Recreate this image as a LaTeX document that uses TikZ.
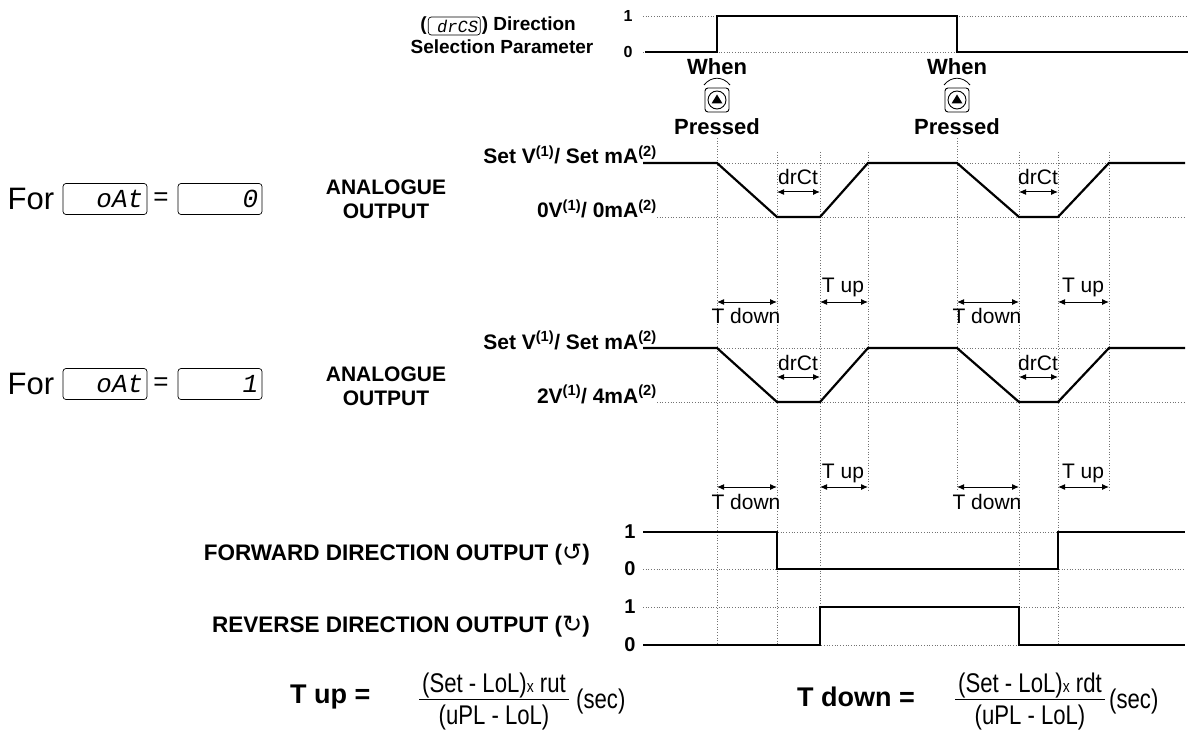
\documentclass[tikz,border=0pt]{standalone}
\usepackage{fontspec}
\setmainfont{Liberation Sans}
\newfontfamily\segfont[FakeSlant=0.18]{Liberation Mono}
\newfontfamily\narrowfont[FakeStretch=0.82]{Liberation Sans}
\newfontfamily\symfont{DejaVu Sans}
\usetikzlibrary{arrows.meta,positioning}

\tikzset{
  lab/.style={font=\fontsize{21}{24}\selectfont\bfseries, inner sep=0pt},
  note/.style={font=\fontsize{21}{24}\selectfont, inner sep=0pt},
  lvl/.style={font=\fontsize{16}{18}\selectfont\bfseries, inner sep=0pt},
  biglvl/.style={font=\fontsize{20}{22}\selectfont\bfseries, inner sep=0pt},
  eqn/.style={font=\fontsize{27}{30}\selectfont\bfseries, inner sep=0pt},
  fracpart/.style={font=\fontsize{27}{30}\selectfont\narrowfont, inner sep=1pt},
  sig/.style={line width=2.2pt, line join=miter},
  guide/.style={black!55, dotted, line width=0.7pt},
  span/.style={{Latex[length=7pt,width=6pt]}-{Latex[length=7pt,width=6pt]}, line width=1pt},
  segbox/.style={draw, rounded corners=3pt, line width=0.7pt, minimum width=84pt,
    minimum height=31pt, text width=74pt, align=right, inner sep=4pt,
    font=\fontsize{26}{26}\segfont},
  upkey/.pic={
    \draw[rounded corners=3pt, line width=0.9pt] (-12,-12) rectangle (12,12);
    \draw[line width=0.9pt] (0,0) circle (9pt);
    \fill (-5.5,3.5) -- (5.5,3.5) -- (0,-5.5) -- cycle;
    \draw[line width=0.8pt] (-13,-15) .. controls (-6,-24) and (6,-24) .. (13,-15);
  }
}

\begin{document}
\begin{tikzpicture}[x=1pt, y=-1pt]
  \useasboundingbox (0,0) rectangle (1200,733);

  % Title of the direction parameter
  \node[lab, font=\fontsize{19}{22}\selectfont\bfseries, anchor=east] (dirtxt) at (576,26) {) Direction};
  \node[segbox, minimum width=52pt, minimum height=18pt, text width=46pt, inner sep=1pt,
    font=\fontsize{17}{17}\segfont, left=1pt of dirtxt] (drcs) {drCS};
  \node[lab, font=\fontsize{19}{22}\selectfont\bfseries, left=1pt of drcs] (paren) {(};
  \node[lab, font=\fontsize{19}{22}\selectfont\bfseries] (selpar) at (502,47) {Selection Parameter};

  % Direction parameter signal
  \node[lvl] (top1) at (628,16) {1};
  \node[lvl] (top0) at (628,52) {0};
  \draw[guide] (643,16) -- (1188,16);
  \draw[guide] (643,52) -- (1188,52);
  \draw[sig] (645,52) -- (717,52) -- (717,16) -- (957,16) -- (957,52) -- (1188,52);

  % Key presses
  \node[lab, font=\fontsize{22}{24}\selectfont\bfseries] (when1) at (717,67) {When};
  \pic at (717,100) {upkey};
  \node[lab, font=\fontsize{22}{24}\selectfont\bfseries] (press1) at (717,127) {Pressed};
  \node[lab, font=\fontsize{22}{24}\selectfont\bfseries] (when2) at (957,67) {When};
  \pic at (957,100) {upkey};
  \node[lab, font=\fontsize{22}{24}\selectfont\bfseries] (press2) at (957,127) {Pressed};

  % Time guides
  \draw[guide] (717,138) -- (717,645);
  \draw[guide] (957,138) -- (957,490);
  \draw[guide] (777,152) -- (777,645);
  \draw[guide] (820,152) -- (820,645);
  \draw[guide] (868,152) -- (868,490);
  \draw[guide] (1019,152) -- (1019,645);
  \draw[guide] (1058,152) -- (1058,645);
  \draw[guide] (1109,152) -- (1109,490);

  % First analogue output (oAt = 0)
  \node[font=\fontsize{31}{34}\selectfont, inner sep=0pt] (for1) at (31,199) {For};
  \node[segbox] (oat1) at (105,199) {oAt};
  \node[font=\fontsize{26}{28}\selectfont, inner sep=0pt] (eq1) at (161,199) {=};
  \node[segbox] (val1) at (220,199) {0};
  \node[lab, align=center] (ana1) at (386,199) {ANALOGUE\\OUTPUT};
  \node[lab, anchor=base east] (set1) at (657,164) {Set V\textsuperscript{(1)}/ Set mA\textsuperscript{(2)}};
  \node[lab, anchor=base east] (low1) at (657,218) {0V\textsuperscript{(1)}/ 0mA\textsuperscript{(2)}};
  \draw[guide] (643,163) -- (1185,163);
  \draw[guide] (657,217) -- (1185,217);
  \draw[sig] (643,163) -- (717,163) -- (777,217) -- (820,217) -- (868,163) -- (957,163)
    -- (1019,217) -- (1058,217) -- (1109,163) -- (1185,163);
  \node[note] (dct1) at (798,177) {drCt};
  \draw[span] (777,192) -- (820,192);
  \node[note] (dct2) at (1038,177) {drCt};
  \draw[span] (1019,192) -- (1058,192);
  \draw[span] (717,302) -- (777,302);
  \node[note] (tdn1) at (746,316) {T down};
  \draw[span] (820,302) -- (868,302);
  \node[note] (tup1) at (843,287) {T up};
  \draw[span] (957,302) -- (1019,302);
  \node[note] (tdn2) at (987,316) {T down};
  \draw[span] (1058,302) -- (1109,302);
  \node[note] (tup2) at (1083,287) {T up};

  % Second analogue output (oAt = 1)
  \node[font=\fontsize{31}{34}\selectfont, inner sep=0pt] (for2) at (31,384) {For};
  \node[segbox] (oat2) at (105,384) {oAt};
  \node[font=\fontsize{26}{28}\selectfont, inner sep=0pt] (eq2) at (161,384) {=};
  \node[segbox] (val2) at (220,384) {1};
  \node[lab, align=center] (ana2) at (386,386) {ANALOGUE\\OUTPUT};
  \node[lab, anchor=base east] (set2) at (657,349) {Set V\textsuperscript{(1)}/ Set mA\textsuperscript{(2)}};
  \node[lab, anchor=base east] (low2) at (657,403) {2V\textsuperscript{(1)}/ 4mA\textsuperscript{(2)}};
  \draw[guide] (643,348) -- (1185,348);
  \draw[guide] (657,402) -- (1185,402);
  \draw[sig] (643,348) -- (717,348) -- (777,402) -- (820,402) -- (868,348) -- (957,348)
    -- (1019,402) -- (1058,402) -- (1109,348) -- (1185,348);
  \node[note] (dct3) at (798,363) {drCt};
  \draw[span] (777,377) -- (820,377);
  \node[note] (dct4) at (1038,363) {drCt};
  \draw[span] (1019,377) -- (1058,377);
  \draw[span] (717,487) -- (777,487);
  \node[note] (tdn3) at (746,502) {T down};
  \draw[span] (820,487) -- (868,487);
  \node[note] (tup3) at (843,473) {T up};
  \draw[span] (957,487) -- (1019,487);
  \node[note] (tdn4) at (987,502) {T down};
  \draw[span] (1058,487) -- (1109,487);
  \node[note] (tup4) at (1083,473) {T up};

  % Forward direction output
  \node[lab, font=\fontsize{22.5}{25}\selectfont\bfseries, anchor=east] (fwd) at (590,555)
    {FORWARD DIRECTION OUTPUT ({\symfont\mdseries\fontsize{24}{25}\selectfont ↺})};
  \node[biglvl] (fwd1) at (630,532) {1};
  \node[biglvl] (fwd0) at (630,569) {0};
  \draw[guide] (643,532) -- (1185,532);
  \draw[guide] (643,569) -- (1185,569);
  \draw[sig] (643,532) -- (777,532) -- (777,569) -- (1058,569) -- (1058,532) -- (1185,532);

  % Reverse direction output
  \node[lab, font=\fontsize{22.5}{25}\selectfont\bfseries, anchor=east] (rev) at (590,627)
    {REVERSE DIRECTION OUTPUT ({\symfont\mdseries\fontsize{24}{25}\selectfont ↻})};
  \node[biglvl] (rev1) at (630,607) {1};
  \node[biglvl] (rev0) at (630,645) {0};
  \draw[guide] (643,607) -- (1185,607);
  \draw[guide] (643,645) -- (1185,645);
  \draw[sig] (643,645) -- (820,645) -- (820,607) -- (1019,607) -- (1019,645) -- (1185,645);

  % Ramp time formulas
  \node[eqn, anchor=west] (tupeq) at (290,697) {T up =};
  \node[fracpart] (num1) at (494,686) {(Set - LoL){\fontsize{17}{17}\selectfont x} rut};
  \node[fracpart] (den1) at (494,718) {(uPL - LoL)};
  \draw[line width=0.8pt] ([xshift=-2pt]num1.south west) -- ([xshift=2pt]num1.south east);
  \node[fracpart, anchor=west] (sec1) at (575,702) {(sec)};
  \node[eqn, anchor=west] (tdneq) at (797,697) {T down =};
  \node[fracpart] (num2) at (1030,686) {(Set - LoL){\fontsize{17}{17}\selectfont x} rdt};
  \node[fracpart] (den2) at (1030,718) {(uPL - LoL)};
  \draw[line width=0.8pt] ([xshift=-2pt]num2.south west) -- ([xshift=2pt]num2.south east);
  \node[fracpart, anchor=west] (sec2) at (1108,702) {(sec)};

\end{tikzpicture}
\end{document}
